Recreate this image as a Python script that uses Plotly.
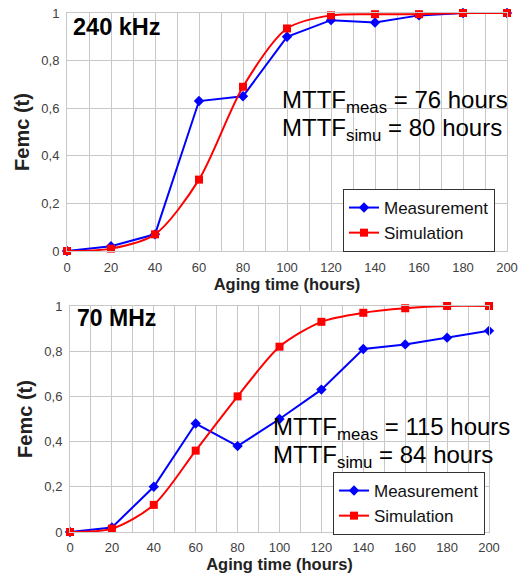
import plotly.graph_objects as go

hours = [0, 20, 40, 60, 80, 100, 120, 140, 160, 180, 200]
meas_240k = [0, 0.02, 0.07, 0.63, 0.65, 0.90, 0.97, 0.96, 0.99, 1.0, 1.0]
simu_240k = [0, 0.01, 0.07, 0.30, 0.69, 0.935, 0.99, 0.995, 0.995, 1.0, 1.0]
meas_70m = [0, 0.02, 0.20, 0.48, 0.38, 0.50, 0.63, 0.81, 0.83, 0.86, 0.89]
simu_70m = [0, 0.015, 0.12, 0.36, 0.60, 0.82, 0.93, 0.97, 0.99, 1.0, 1.0]
y_ticks = [0, 0.2, 0.4, 0.6, 0.8, 1]
x_ticks = hours

W, H = 523, 574
FONT = "Liberation Sans, Arial, sans-serif"
BLUE = "#0000FF"
RED = "#FF0000"

fig = go.Figure()

def add_pair(meas, simu, xa, ya, legend):
    fig.add_trace(go.Scatter(
        x=hours, y=meas, name="Measurement", mode="lines+markers",
        line=dict(color=BLUE, width=2), marker=dict(symbol="diamond", size=8, color=BLUE),
        xaxis=xa, yaxis=ya, legend=legend, cliponaxis=False))
    fig.add_trace(go.Scatter(
        x=hours, y=simu, name="Simulation", mode="lines+markers",
        line=dict(color=RED, width=2, shape="spline", smoothing=0.8),
        marker=dict(symbol="square", size=8, color=RED),
        xaxis=xa, yaxis=ya, legend=legend, cliponaxis=False))

add_pair(meas_240k, simu_240k, "x", "y", "legend")
add_pair(meas_70m, simu_70m, "x2", "y2", "legend2")

def px_x(p):
    return p / W

def px_y(p):
    return 1 - p / H

axis_common = dict(
    showgrid=True, gridcolor="#c8c8c8", gridwidth=1,
    showline=True, linecolor="#c8c8c8", mirror=True, automargin=False,
    zeroline=False, ticks="", tickfont=dict(family=FONT, size=13, color="#404040"),
)
xtitle = dict(text="<b>Aging time (hours)</b>", font=dict(family=FONT, size=16.5, color="#222"), standoff=4)
ytitle = dict(text="<b>Femc (t)</b>", font=dict(family=FONT, size=20, color="#222"), standoff=6)
minor = dict(dtick=10, tick0=0, showgrid=True, gridcolor="#c8c8c8")
legfont = dict(family=FONT, size=17, color="#111")

fig.update_layout(
    width=W, height=H, margin=dict(l=0, r=0, t=0, b=0),
    paper_bgcolor="white", plot_bgcolor="white",
    separators=", ",
    font=dict(family=FONT),
    xaxis=dict(domain=[px_x(67), px_x(507)], anchor="y", range=[0, 200],
               tickvals=x_ticks, minor=minor, title=xtitle, ticklabelstandoff=4, **axis_common),
    yaxis=dict(domain=[px_y(251), px_y(13)], anchor="x", range=[0, 1],
               tickvals=y_ticks, ticklabelstandoff=4, title=ytitle, **axis_common),
    xaxis2=dict(domain=[px_x(70), px_x(489)], anchor="y2", range=[0, 200],
                tickvals=x_ticks, minor=minor, title=xtitle, ticklabelstandoff=3, **axis_common),
    yaxis2=dict(domain=[px_y(532), px_y(306)], anchor="x2", range=[0, 1],
                tickvals=y_ticks, ticklabelstandoff=4, title=ytitle, **axis_common),
    legend=dict(x=px_x(343), y=px_y(189), xanchor="left", yanchor="top",
                bordercolor="#333", borderwidth=1, bgcolor="white",
                font=legfont, itemwidth=30),
    legend2=dict(x=px_x(333), y=px_y(472), xanchor="left", yanchor="top",
                 bordercolor="#333", borderwidth=1, bgcolor="white",
                 font=legfont, itemwidth=30),
)

def note(text, x, y, size, bold=False, xanchor="left"):
    fig.add_annotation(
        text=f"<b>{text}</b>" if bold else text, x=px_x(x), y=px_y(y),
        xref="paper", yref="paper", xanchor=xanchor, yanchor="middle",
        showarrow=False, font=dict(family=FONT, size=size, color="black"))

note("240 kHz", 71, 27, 23.5, bold=True)
note("70 MHz", 75, 318, 23, bold=True)
note("MTTF<sub>meas</sub> = 76 hours", 280, 101, 24)
note("MTTF<sub>simu</sub> = 80 hours", 280, 129, 24)
note("MTTF<sub>meas</sub> = 115 hours", 271, 428, 24)
note("MTTF<sub>simu</sub> = 84 hours", 271, 456, 24)

fig.write_html("out.html", config={"displayModeBar": False},
               post_script="document.body.style.margin='0px';")
